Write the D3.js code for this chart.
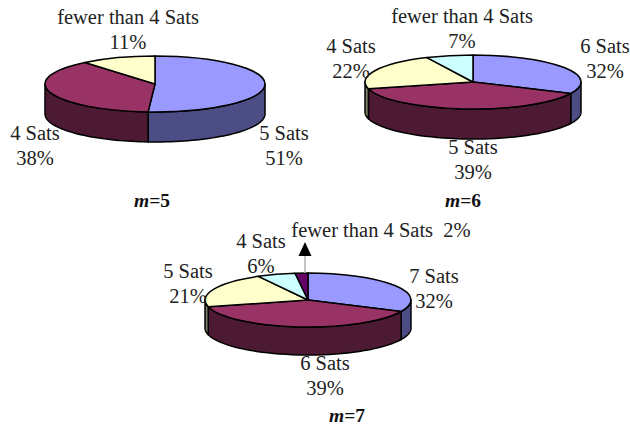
<!DOCTYPE html>
<html>
<head>
<meta charset="utf-8">
<style>
  html, body { margin: 0; padding: 0; background: #fff; }
  svg { display: block; }
  text { font-family: "Liberation Serif", serif; font-size: 20.5px; fill: #222; text-anchor: middle; }
  .caption { font-weight: bold; font-size: 19.5px; fill: #111; }
</style>
<script src="https://cdn.jsdelivr.net/npm/d3@7"></script>
</head>
<body>
<svg id="chart" width="630" height="426"></svg>
<script>
// Percentage share per satellite count, one pair of arrays per value of m
const categoriesM5 = ["5 Sats", "4 Sats", "fewer than 4 Sats"];
const valuesM5 = [51, 38, 11];
const categoriesM6 = ["6 Sats", "5 Sats", "4 Sats", "fewer than 4 Sats"];
const valuesM6 = [32, 39, 22, 7];
const categoriesM7 = ["7 Sats", "6 Sats", "5 Sats", "4 Sats", "fewer than 4 Sats"];
const valuesM7 = [32, 39, 21, 6, 2];

// Slice colours: face and shaded side wall, in drawing order around each pie
const faceColors = ["#9999ff", "#993366", "#ffffcc", "#ccffff", "#660066"];
const wallColors = ["#4d4d85", "#4d1a33", "#80806a", "#6a8080", "#330033"];
const faceColorsM5 = ["#9999ff", "#993366", "#ffffcc"];
const wallColorsM5 = ["#4d4d85", "#4d1a33", "#80806a"];

// Pie geometry and label placement for each panel
const panels = [
  {
    name: "5", categories: categoriesM5, values: valuesM5, faces: faceColorsM5, walls: wallColorsM5,
    cx: 155, cy: 84, rx: 110, ry: 28, depth: 30, captionAt: [152, 207],
    labels: [[284, 140], [35, 140], [128, 24]], gap: 25
  },
  {
    name: "6", categories: categoriesM6, values: valuesM6, faces: faceColors, walls: wallColors,
    cx: 473, cy: 82, rx: 108, ry: 27, depth: 30, captionAt: [463, 207],
    labels: [[605, 53], [473, 154], [351, 53], [462, 23]], gap: 25
  },
  {
    name: "7", categories: categoriesM7, values: valuesM7, faces: faceColors, walls: wallColors,
    cx: 308, cy: 300, rx: 103, ry: 27, depth: 28, captionAt: [347, 422],
    labels: [[434, 283], [325, 370], [188, 278], [261, 248], null], gap: 25
  }
];

const svg = d3.select("#chart");
const pie = d3.pie().sort(null);

panels.forEach(p => {
  const g = svg.append("g").attr("transform", `translate(${p.cx},${p.cy})`);
  const slices = pie(p.values);
  const x = a => p.rx * Math.sin(a);
  const y = a => -p.ry * Math.cos(a);

  // Side wall: only the part of each slice on the near half of the ellipse is visible
  const outline = d3.line();
  slices.forEach((s, i) => {
    const a0 = Math.max(s.startAngle, Math.PI / 2);
    const a1 = Math.min(s.endAngle, 3 * Math.PI / 2);
    if (a1 <= a0) return;
    const sweep = d3.range(0, 41).map(k => a0 + (a1 - a0) * k / 40);
    const pts = sweep.map(a => [x(a), y(a)])
      .concat(sweep.slice().reverse().map(a => [x(a), y(a) + p.depth]));
    g.append("path")
      .attr("d", outline(pts) + "Z")
      .attr("fill", p.walls[i])
      .attr("stroke", "#000")
      .attr("stroke-width", 1.5)
      .attr("stroke-linejoin", "round");
  });

  // Top face: a circular pie squashed vertically into an ellipse
  const arc = d3.arc().innerRadius(0).outerRadius(p.rx);
  g.append("g")
    .attr("transform", `scale(1,${p.ry / p.rx})`)
    .selectAll("path")
    .data(slices)
    .join("path")
    .attr("d", arc)
    .attr("fill", (d, i) => p.faces[i])
    .attr("stroke", "#000")
    .attr("stroke-width", 1.5)
    .attr("stroke-linejoin", "round")
    .style("vector-effect", "non-scaling-stroke");

  // Two-line labels: category name above its percentage
  p.categories.forEach((c, i) => {
    const at = p.labels[i];
    if (!at) return;
    svg.append("text").attr("x", at[0]).attr("y", at[1]).text(c);
    svg.append("text").attr("x", at[0]).attr("y", at[1] + p.gap).text(p.values[i] + "%");
  });

  // Panel caption such as "m=5"
  const cap = svg.append("text").attr("class", "caption")
    .attr("x", p.captionAt[0]).attr("y", p.captionAt[1]);
  cap.append("tspan").attr("font-style", "italic").text("m");
  cap.append("tspan").text("=" + p.name);
});

// The smallest slice of the m=7 pie is labelled with a callout arrow
const tinyShare = valuesM7[4];
svg.append("text").attr("x", 381).attr("y", 237)
  .style("white-space", "pre")
  .text(categoriesM7[4] + "  " + tinyShare + "%");
svg.append("line")
  .attr("x1", 305).attr("y1", 273).attr("x2", 305).attr("y2", 254)
  .attr("stroke", "#b0b0b0").attr("stroke-width", 1.5);
svg.append("path")
  .attr("d", d3.line()([[305, 242], [311.5, 256], [298.5, 256]]) + "Z")
  .attr("fill", "#000");
</script>
</body>
</html>
